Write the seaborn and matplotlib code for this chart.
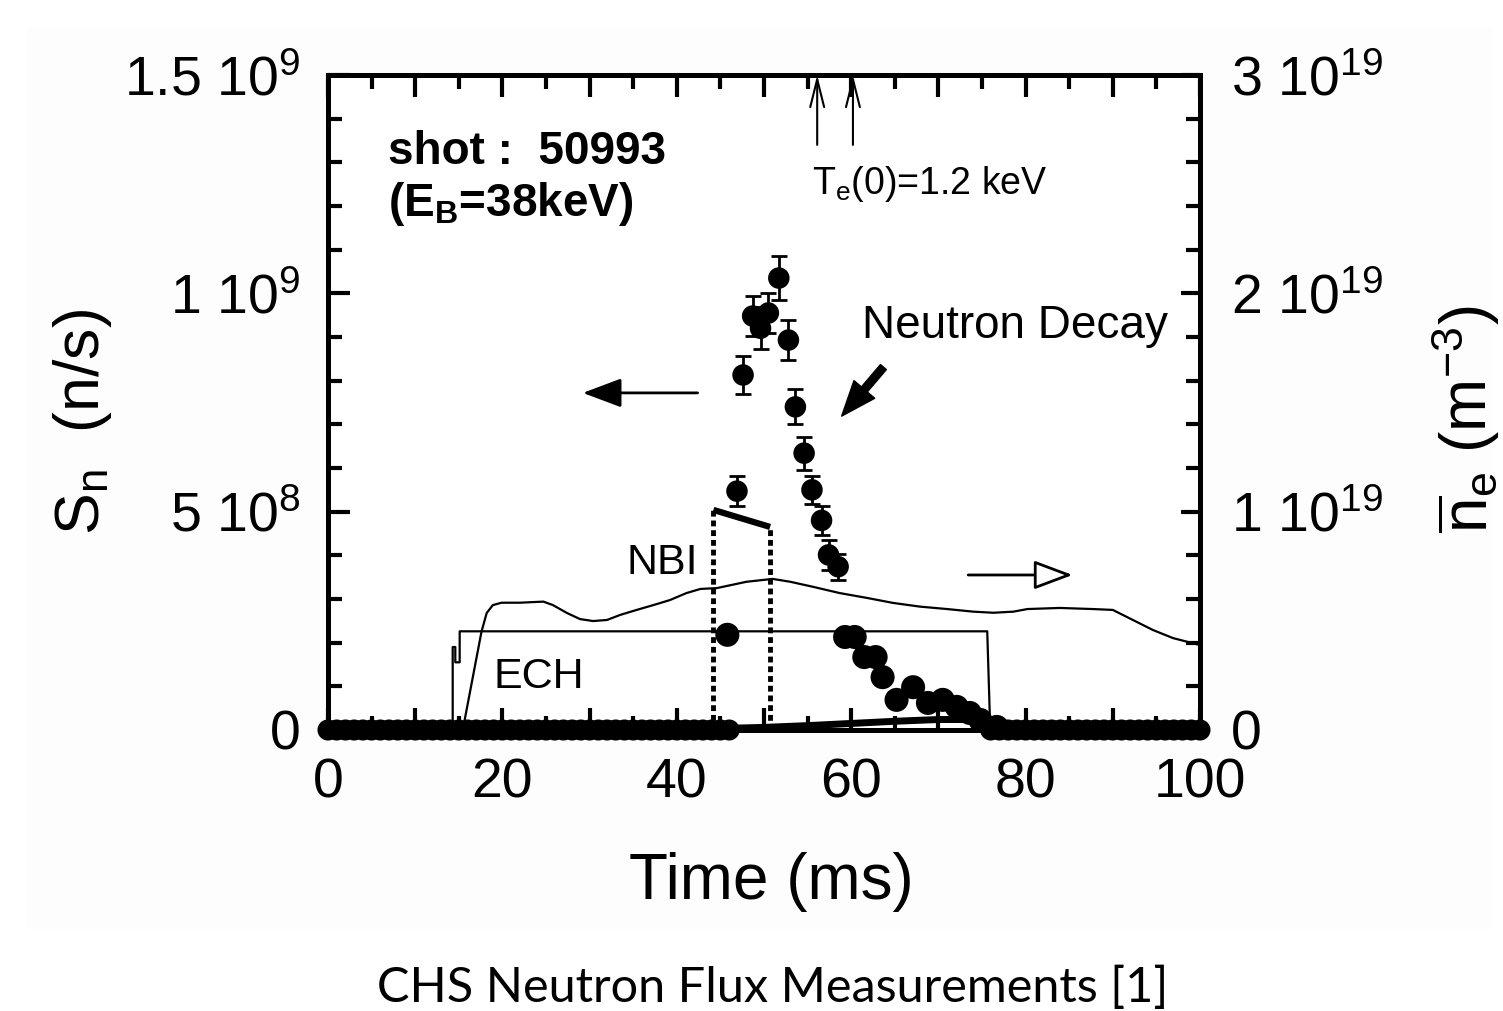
#!/usr/bin/env python
"""CHS neutron flux measurement (shot 50993) redrawn with seaborn."""

import numpy as np
import pandas as pd

import matplotlib

matplotlib.use("Agg")
import matplotlib.pyplot as plt
from matplotlib.patches import Rectangle
from matplotlib.ticker import MultipleLocator
import seaborn as sns


# neutron source rate S_n (n/s): rising / decaying branch with error bars
PEAK_T = [46.9, 47.6, 48.7, 49.6, 50.5, 51.7, 52.8, 53.6, 54.6, 55.5, 56.6, 57.4, 58.5]
PEAK_S = [5.47e8, 8.13e8, 9.48e8, 9.20e8, 9.55e8, 1.035e9, 8.93e8, 7.40e8, 6.34e8,
          5.50e8, 4.80e8, 4.01e8, 3.74e8]
PEAK_ERR = [3.4e7, 4.3e7, 4.6e7, 4.8e7, 4.6e7, 5.0e7, 4.6e7, 4.0e7, 3.8e7,
            3.2e7, 3.4e7, 3.4e7, 3.0e7]

# low branch (after NBI off)
LOW_T = [45.8, 59.3, 60.4, 61.5, 62.8, 63.6, 65.2, 67.1, 68.8, 70.5, 72.1, 73.6, 74.8, 76.7]
LOW_S = [2.18e8, 2.13e8, 2.13e8, 1.67e8, 1.67e8, 1.21e8, 0.69e8, 0.98e8, 0.62e8,
         0.69e8, 0.53e8, 0.39e8, 0.23e8, 0.07e8]

# background samples sitting on zero
BASE_T = list(range(0, 47)) + list(range(76, 101))
BASE_S = [0.0] * len(BASE_T)

# near-zero trace during the discharge
TRACE_T = [46, 50, 55, 60, 65, 70, 74, 76]
TRACE_S = [0.4e7, 0.6e7, 1.0e7, 1.5e7, 2.0e7, 2.4e7, 2.4e7, 0.6e7]

# ECH pulse waveform (left-axis units)
ECH_T = [0, 14.3, 14.3, 14.6, 14.6, 15.1, 15.1, 75.6, 75.9, 76.2, 100]
ECH_S = [0, 0, 1.9e8, 1.9e8, 1.55e8, 1.55e8, 2.26e8, 2.26e8, 0.3e8, 0, 0]

# NBI pulse (dashed box)
NBI_T = [44.2, 50.7]
NBI_S = [5.04e8, 4.65e8]

# line-averaged electron density (1e19 m^-3)
NE_T = [0, 15.5, 17.6, 18.2, 18.9, 19.9, 22.0, 24.7, 25.8, 27.4, 28.9, 30.4, 32.0, 33.5,
        35.4, 37.3, 39.2, 41.1, 42.7, 44.6, 48.0, 51.0, 53.0, 55.6, 58.7, 61.8, 64.8,
        67.9, 71.0, 74.0, 76.3, 78.6, 80.2, 83.9, 87.7, 90.0, 92.3, 94.6, 96.9, 100.0]
NE_V = [0, 0.01, 0.45, 0.536, 0.572, 0.583, 0.583, 0.588, 0.572, 0.536, 0.508, 0.499,
        0.504, 0.527, 0.550, 0.572, 0.595, 0.627, 0.646, 0.650, 0.679, 0.692, 0.679,
        0.656, 0.627, 0.605, 0.582, 0.565, 0.554, 0.542, 0.537, 0.542, 0.554, 0.559,
        0.554, 0.550, 0.504, 0.458, 0.421, 0.389]

TE_ARROW_T = [56.1, 60.2]

X_TICKS = [0, 10, 20, 30, 40, 50, 60, 70, 80, 90, 100]
X_LABELS = ["0", "", "20", "", "40", "", "60", "", "80", "", "100"]
Y_TICKS = [0, 5e8, 1e9, 1.5e9]
Y_LABELS = ["0", "5 10$^8$", "1 10$^9$", "1.5 10$^9$"]
Y2_TICKS = [0, 1e19, 2e19, 3e19]
Y2_LABELS = ["0", "1 10$^{19}$", "2 10$^{19}$", "3 10$^{19}$"]


def setup_style() -> None:
    sns.set_theme(style="ticks")
    plt.rcParams["font.family"] = ["Liberation Sans", "DejaVu Sans"]
    plt.rcParams["mathtext.fontset"] = "custom"
    plt.rcParams["mathtext.rm"] = "Liberation Sans"
    plt.rcParams["mathtext.it"] = "Liberation Sans:italic"
    plt.rcParams["mathtext.bf"] = "Liberation Sans:bold"
    plt.rcParams["mathtext.default"] = "regular"
    for key in ("text.color", "axes.labelcolor", "xtick.color", "ytick.color",
                "axes.edgecolor"):
        plt.rcParams[key] = "black"


def main() -> None:
    setup_style()
    fig = plt.figure(figsize=(15.03, 10.11), dpi=100)
    fig.patches.append(Rectangle((27 / 1503, 1 - 928 / 1011), 1463 / 1503, 900 / 1011,
                                 transform=fig.transFigure, color="#fdfdfd", zorder=-10))
    ax = fig.add_axes([328 / 1503, 1 - 730 / 1011, 872 / 1503, 655 / 1011])
    ax2 = ax.twinx()

    black = "black"
    # density on right axis
    ne = pd.DataFrame({"t": NE_T, "ne": np.array(NE_V) * 1e19})
    sns.lineplot(data=ne, x="t", y="ne", ax=ax2, color=black, lw=1.6, sort=False, estimator=None)

    ech = pd.DataFrame({"t": ECH_T, "s": ECH_S})
    sns.lineplot(data=ech, x="t", y="s", ax=ax, color=black, lw=1.6, sort=False, estimator=None)

    trace = pd.DataFrame({"t": TRACE_T, "s": TRACE_S})
    sns.lineplot(data=trace, x="t", y="s", ax=ax, color=black, lw=5, sort=False, estimator=None)

    # NBI box
    ax.plot(NBI_T, NBI_S, color=black, lw=4.5, solid_capstyle="butt")
    for t, s in zip(NBI_T, NBI_S):
        ax.plot([t, t], [0, s], color=black, lw=3.5, ls=(0, (1.2, 0.8)))

    base = pd.DataFrame({"t": BASE_T, "s": BASE_S})
    sns.scatterplot(data=base, x="t", y="s", ax=ax, color=black, s=230, edgecolor="none",
                    clip_on=False, zorder=5)
    low = pd.DataFrame({"t": LOW_T, "s": LOW_S})
    sns.scatterplot(data=low, x="t", y="s", ax=ax, color=black, s=300, edgecolor="none",
                    zorder=5)
    peak = pd.DataFrame({"t": PEAK_T, "s": PEAK_S, "err": PEAK_ERR})
    ax.errorbar(peak["t"], peak["s"], yerr=peak["err"], fmt="none", ecolor=black,
                elinewidth=2, capsize=6, capthick=2, zorder=4)
    sns.scatterplot(data=peak, x="t", y="s", ax=ax, color=black, s=240, edgecolor="none",
                    zorder=5)

    # axes
    ax.set_xlim(0, 100)
    ax.set_ylim(0, 1.5e9)
    ax2.set_ylim(0, 3e19)
    ax.set_xticks(X_TICKS)
    ax.set_xticklabels(X_LABELS)
    ax.xaxis.set_minor_locator(MultipleLocator(5))
    ax.set_yticks(Y_TICKS)
    ax.set_yticklabels(Y_LABELS)
    ax.yaxis.set_minor_locator(MultipleLocator(1e8))
    ax2.set_yticks(Y2_TICKS)
    ax2.set_yticklabels(Y2_LABELS)
    ax2.yaxis.set_minor_locator(MultipleLocator(2e18))

    ax.tick_params(axis="both", which="major", direction="in", length=16, width=3,
                   labelsize=40, top=True, right=False)
    ax.tick_params(axis="both", which="minor", direction="in", length=10, width=3,
                   top=True, right=False)
    ax.tick_params(axis="x", which="major", pad=20)
    ax.tick_params(axis="y", which="major", pad=20)
    ax2.tick_params(axis="y", which="major", direction="in", length=14, width=3,
                    labelsize=40, pad=22)
    ax2.tick_params(axis="y", which="minor", direction="in", length=10, width=3)
    for a in (ax, ax2):
        for sp in a.spines.values():
            sp.set_linewidth(3.6)
            sp.set_color(black)

    ax.set_xlabel("Time (ms)", fontsize=46)
    ax.xaxis.set_label_coords(0.509, -0.186)
    ax.set_ylabel("S$_n$  (n/s)", fontsize=45)
    ax.yaxis.label.set_va("center")
    ax.yaxis.set_label_coords(-0.282, 0.47)
    ax2.set_ylabel(r"$\overline{n}_e$ (m$^{-3}$)", fontsize=46)
    ax2.yaxis.label.set_va("center")
    ax2.yaxis.set_label_coords(1.305, 0.475)

    # annotations
    ax.text(6.9, 1.324e9, "shot :  50993", fontsize=33, fontweight="bold", va="center")
    ax.text(6.9, 1.205e9, "(E$_B$=38keV)", fontsize=33, fontweight="bold", va="center")
    ax.text(55.5, 1.25e9, "T$_e$(0)=1.2 keV", fontsize=27, va="center")
    ax.text(78.8, 9.25e8, "Neutron Decay", fontsize=33, ha="center", va="center")
    ax.text(38.3, 3.82e8, "NBI", fontsize=31, ha="center", va="center")
    ax.text(24.2, 1.21e8, "ECH", fontsize=31, ha="center", va="center")

    ax.annotate("", xy=(28.9, 7.72e8), xytext=(42.7, 7.72e8),
                arrowprops=dict(arrowstyle="-|>,head_length=1.2,head_width=0.45",
                                mutation_scale=20, lw=2, color=black))
    ax.annotate("", xy=(85.7, 3.55e8), xytext=(73.1, 3.55e8),
                arrowprops=dict(arrowstyle="-|>,head_length=1.2,head_width=0.45",
                                mutation_scale=20, lw=2, ec=black, fc="white"))
    ax.annotate("", xy=(58.7, 7.14e8), xytext=(63.9, 8.36e8),
                arrowprops=dict(arrowstyle="simple,head_length=0.9,head_width=0.7,tail_width=0.2",
                                mutation_scale=28, color=black))
    for t in TE_ARROW_T:
        ax.annotate("", xy=(t, 1.5e9), xytext=(t, 1.34e9),
                    arrowprops=dict(arrowstyle="->,head_length=1.0,head_width=0.25",
                                    mutation_scale=20, lw=1.5, color=black,
                                    shrinkA=0, shrinkB=0))

    fig.text(0.514, 1 - 988 / 1011, "CHS Neutron Flux Measurements [1]", fontsize=35,
             family=["Lato", "DejaVu Sans"], ha="center", va="center")

    fig.savefig("out.png", dpi=100)
    plt.close(fig)


if __name__ == "__main__":
    main()
